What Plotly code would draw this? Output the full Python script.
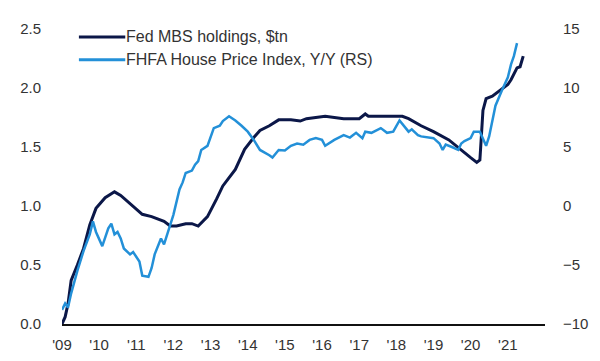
import plotly.graph_objects as go

# Fed MBS holdings, $tn (left axis)
mbs_dates = ["2009-01","2009-02","2009-03","2009-04","2009-06","2009-08","2009-10","2009-12",
             "2010-03","2010-06","2010-08","2010-12","2011-03","2011-06","2011-10","2011-12",
             "2012-02","2012-05","2012-07","2012-09","2012-12","2013-03","2013-05","2013-09",
             "2013-12","2014-03","2014-05","2014-08","2014-11","2015-03","2015-06","2015-08",
             "2016-02","2016-08","2017-01","2017-03","2017-04","2018-03","2018-05","2018-09",
             "2019-01","2019-06","2019-10","2020-01","2020-03","2020-04","2020-05","2020-06",
             "2020-08","2020-10","2020-12","2021-01","2021-02","2021-04","2021-05","2021-06"]
mbs_values = [0.0,0.06,0.17,0.37,0.5,0.64,0.84,0.98,
              1.07,1.12,1.09,1.0,0.93,0.91,0.87,0.83,
              0.83,0.85,0.85,0.83,0.91,1.06,1.17,1.31,
              1.48,1.58,1.64,1.68,1.73,1.73,1.72,1.74,
              1.76,1.74,1.74,1.78,1.76,1.76,1.74,1.68,
              1.63,1.56,1.47,1.41,1.37,1.39,1.81,1.91,
              1.93,1.97,2.01,2.03,2.07,2.17,2.18,2.27]

# FHFA House Price Index, Y/Y % (right axis)
hpi_dates = ["2009-01","2009-02","2009-03","2009-04","2009-06","2009-08","2009-10","2009-11",
             "2009-12","2010-02","2010-04","2010-05","2010-06","2010-07","2010-08","2010-09",
             "2010-11","2010-12","2011-02","2011-03","2011-05","2011-06","2011-07","2011-09",
             "2011-10","2011-11","2011-12","2012-01","2012-03","2012-04","2012-05","2012-07",
             "2012-08","2012-09","2012-10","2012-12","2013-01","2013-02","2013-04","2013-05",
             "2013-07","2013-09","2013-11","2014-01","2014-03","2014-05","2014-08","2014-09",
             "2014-11","2015-01","2015-03","2015-05","2015-07","2015-09","2015-11","2016-01",
             "2016-02","2016-05","2016-08","2016-10","2016-12","2017-02","2017-03","2017-05",
             "2017-08","2017-10","2017-12","2018-02","2018-05","2018-06","2018-08","2018-09",
             "2019-01","2019-03","2019-04","2019-05","2019-07","2019-09","2019-10","2019-11",
             "2020-01","2020-02","2020-04","2020-05","2020-06","2020-07","2020-08","2020-09",
             "2020-11","2021-01","2021-02","2021-03","2021-04"]
hpi_values = [-8.8,-8.25,-8.6,-7.4,-5.5,-3.8,-2.4,-1.3,
              -2.2,-3.4,-1.9,-1.5,-2.4,-2.2,-2.75,-3.6,
              -4.1,-3.9,-4.7,-5.9,-6.0,-5.25,-4.1,-2.75,
              -3.25,-2.3,-1.6,-0.75,1.4,2.0,2.8,3.0,
              3.5,3.8,4.75,5.1,5.9,6.6,6.8,7.2,
              7.6,7.25,6.8,6.3,5.6,4.75,4.3,4.1,
              4.75,4.7,5.1,5.3,5.2,5.6,5.75,5.6,
              5.1,5.6,6.0,5.8,6.2,5.75,6.3,6.2,
              6.6,6.2,6.3,7.25,6.3,6.5,6.0,5.9,
              5.75,5.3,4.75,5.2,5.0,4.75,5.3,5.5,
              5.75,6.3,6.3,5.75,5.1,5.9,7.25,8.5,
              9.75,10.9,12.0,12.7,13.8]

year_ticks = [f"{y}-01-01" for y in range(2009, 2022)]
year_labels = [f"'{str(y)[2:]}" for y in range(2009, 2022)]
left_ticks = [0.0, 0.5, 1.0, 1.5, 2.0, 2.5]
right_ticks = [-10, -5, 0, 5, 10, 15]

navy = "#0b1748"
light = "#2390d8"
font_family = "Liberation Sans, Arial, sans-serif"
txt = "#333333"

fig = go.Figure()
fig.add_trace(go.Scatter(x=hpi_dates, y=hpi_values, yaxis="y2", mode="lines",
                         line=dict(color=light, width=2.5), name="FHFA House Price Index, Y/Y (RS)",
                         showlegend=False))
fig.add_trace(go.Scatter(x=mbs_dates, y=mbs_values, mode="lines",
                         line=dict(color=navy, width=3), name="Fed MBS holdings, $tn",
                         showlegend=False))

# legend drawn manually
legend_items = [("Fed MBS holdings, $tn", navy, 0.973), ("FHFA House Price Index, Y/Y (RS)", light, 0.896)]
for label, col, yp in legend_items:
    fig.add_shape(type="line", xref="paper", yref="paper", x0=0.035, x1=0.131, y0=yp, y1=yp,
                  line=dict(color=col, width=3))
    fig.add_annotation(xref="paper", yref="paper", x=0.129, y=yp, text=label, showarrow=False,
                       xanchor="left", yanchor="middle", font=dict(size=16, color=txt, family=font_family))

fig.update_layout(
    width=600, height=361,
    margin=dict(l=48, r=63, t=17, b=45),
    paper_bgcolor="white", plot_bgcolor="white",
    font=dict(family=font_family, size=15, color=txt),
    xaxis=dict(type="date", range=["2009-01-01", "2022-01-01"], tickvals=year_ticks,
               ticktext=year_labels, showgrid=False, zeroline=False, showline=True,
               linecolor="#111111", linewidth=2, ticks="", ticklabelstandoff=6),
    yaxis=dict(range=[0, 2.5], tickvals=left_ticks, ticktext=[f"{v:.1f}" for v in left_ticks],
               showgrid=False, zeroline=False, showline=False, ticks="", ticklabelstandoff=20),
    yaxis2=dict(range=[-10, 15], tickvals=right_ticks, overlaying="y", side="right",
                showgrid=False, zeroline=False, showline=False, ticks="", ticklabelstandoff=17),
)

fig.write_html("out.html")
